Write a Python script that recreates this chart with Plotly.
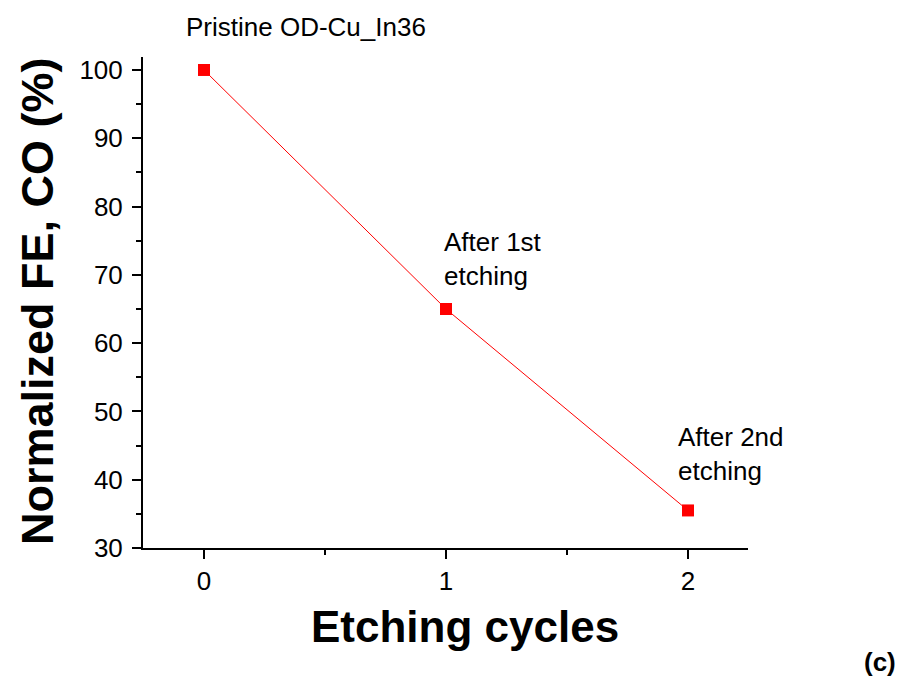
import plotly.graph_objects as go

cycles = [0, 1, 2]
fe_co = [100, 65, 35.5]
labels = ["Pristine OD-Cu_In36", "After 1st<br>etching", "After 2nd<br>etching"]
x_ticks = [0, 1, 2]
y_ticks = [30, 40, 50, 60, 70, 80, 90, 100]
x_title = "Etching cycles"
y_title = "Normalized FE, CO (%)"

FONT = "Liberation Sans, Arial, sans-serif"
W, H = 916, 677
L, R, T, B = 143, 168, 57, 129
PW, PH = W - L - R, H - T - B


def px(xp):
    return (xp - L) / PW


def py(yp):
    return (H - B - yp) / PH


fig = go.Figure()
fig.add_trace(go.Scatter(
    x=cycles, y=fe_co, mode="lines+markers",
    line=dict(color="red", width=1),
    marker=dict(symbol="square", size=12, color="red"),
    showlegend=False, cliponaxis=False,
))

axis_common = dict(
    showline=True, linecolor="black", linewidth=2, mirror=False,
    ticks="outside", ticklen=9, tickwidth=2, tickcolor="black",
    showgrid=False, zeroline=False,
    tickfont=dict(family=FONT, size=26, color="black"),
)

fig.update_xaxes(
    range=[-0.252, 2.248], tickvals=x_ticks,
    minor=dict(ticks="outside", ticklen=5, tickwidth=2, tickcolor="black", dtick=0.5, tick0=0),
    **axis_common,
)
fig.update_yaxes(
    range=[30, 101.9], tickvals=y_ticks, ticklabelstandoff=4,
    minor=dict(ticks="outside", ticklen=5, tickwidth=2, tickcolor="black", dtick=5, tick0=0),
    **axis_common,
)

# axis titles
fig.add_annotation(x=px(465), y=py(626), xref="paper", yref="paper", text="<b>" + x_title + "</b>",
                   showarrow=False, xanchor="center", yanchor="middle",
                   font=dict(family=FONT, size=44, color="black"))
fig.add_annotation(x=px(37), y=py(301), xref="paper", yref="paper", text="<b>" + y_title + "</b>",
                   showarrow=False, xanchor="center", yanchor="middle", textangle=-90,
                   font=dict(family=FONT, size=45, color="black"))

# point annotations
fig.add_annotation(x=cycles[0], y=fe_co[0], text=labels[0], showarrow=False,
                   xref="x", yref="y", xanchor="left", yanchor="middle",
                   xshift=-20, yshift=43, font=dict(family=FONT, size=26, color="black"))
fig.add_annotation(x=cycles[1], y=fe_co[1], text=labels[1], showarrow=False,
                   xref="x", yref="y", xanchor="left", yanchor="middle", align="left",
                   xshift=-4, yshift=50, font=dict(family=FONT, size=26, color="black"))
fig.add_annotation(x=cycles[2], y=fe_co[2], text=labels[2], showarrow=False,
                   xref="x", yref="y", xanchor="left", yanchor="middle", align="left",
                   xshift=-12, yshift=56, font=dict(family=FONT, size=26, color="black"))

fig.add_annotation(x=px(880), y=py(662), xref="paper", yref="paper", text="<b>(c)</b>",
                   showarrow=False, xanchor="center", yanchor="middle",
                   font=dict(family=FONT, size=26, color="black"))

fig.update_layout(
    width=W, height=H,
    margin=dict(l=L, r=R, t=T, b=B),
    paper_bgcolor="white", plot_bgcolor="white",
)

fig.write_html("out.html")
